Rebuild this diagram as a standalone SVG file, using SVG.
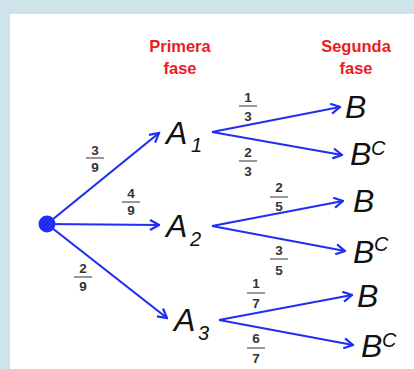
<svg xmlns="http://www.w3.org/2000/svg" width="414" height="369" viewBox="0 0 414 369">
<defs>
<style>
.e{stroke:#1f2ef2;stroke-width:2.2;fill:none;marker-end:url(#ah)}
.f{font-family:"Liberation Sans",Arial,sans-serif;font-weight:bold;font-size:13.5px;fill:#333;text-anchor:middle}
.fl{stroke:#444;stroke-width:1.1}
.h{font-family:"Liberation Sans",Arial,sans-serif;font-weight:bold;font-size:16.5px;fill:#ee1c1c;text-anchor:middle}
.n{font-family:"Liberation Sans",Arial,sans-serif;font-style:italic;font-size:32px;fill:#111}
.s{font-family:"Liberation Sans",Arial,sans-serif;font-style:italic;font-size:20px;fill:#111}
</style>
<marker id="ah" viewBox="0 0 12 12" refX="10.5" refY="6" markerWidth="12" markerHeight="12" markerUnits="userSpaceOnUse" orient="auto">
<path d="M1.5,1 L10.5,6 L1.5,11" fill="none" stroke="#1f2ef2" stroke-width="2.2"/>
</marker>
</defs>
<rect width="414" height="369" fill="#cfe3ea"/>
<rect x="10" y="14" width="404" height="355" fill="#ffffff"/>
<g id="headers">
<text class="h" x="180" y="52">Primera</text>
<text class="h" x="180" y="74">fase</text>
<text class="h" x="356" y="52">Segunda</text>
<text class="h" x="356" y="74">fase</text>
</g>
<g id="connectors">
<path class="e" d="M47,224 L159,133"/>
<path class="e" d="M47,224 L159,225"/>
<path class="e" d="M47,224 L167,318"/>
<path class="e" d="M212,132 L340,107"/>
<path class="e" d="M212,132 L342,155"/>
<path class="e" d="M212,226 L343,201"/>
<path class="e" d="M212,226 L345,251"/>
<path class="e" d="M219,320 L352,295"/>
<path class="e" d="M219,320 L353,345"/>
</g>
<g id="labels">
<text class="f" x="95" y="155">3</text><line class="fl" x1="86" y1="158" x2="104" y2="158"/><text class="f" x="95" y="172">9</text>
<text class="f" x="131" y="198">4</text><line class="fl" x1="122" y1="202" x2="140" y2="202"/><text class="f" x="131" y="215">9</text>
<text class="f" x="83" y="273">2</text><line class="fl" x1="74" y1="277" x2="92" y2="277"/><text class="f" x="83" y="291">9</text>
<text class="f" x="248" y="102">1</text><line class="fl" x1="239" y1="106" x2="257" y2="106"/><text class="f" x="248" y="121">3</text>
<text class="f" x="248" y="157">2</text><line class="fl" x1="239" y1="161" x2="257" y2="161"/><text class="f" x="248" y="176">3</text>
<text class="f" x="279" y="192">2</text><line class="fl" x1="270" y1="197" x2="288" y2="197"/><text class="f" x="279" y="211">5</text>
<text class="f" x="279" y="255">3</text><line class="fl" x1="270" y1="259" x2="288" y2="259"/><text class="f" x="279" y="275">5</text>
<text class="f" x="256" y="288">1</text><line class="fl" x1="247" y1="293" x2="265" y2="293"/><text class="f" x="256" y="308">7</text>
<text class="f" x="256" y="343">6</text><line class="fl" x1="247" y1="348" x2="265" y2="348"/><text class="f" x="256" y="363">7</text>
</g>
<g id="root"><circle cx="47" cy="224" r="8.5" fill="#1f2ef2"/></g>
<g id="A1"><text class="n" x="166" y="144">A</text><text class="s" x="191" y="152">1</text></g>
<g id="A2"><text class="n" x="166" y="237">A</text><text class="s" x="190" y="246">2</text></g>
<g id="A3"><text class="n" x="174" y="331">A</text><text class="s" x="198" y="340">3</text></g>
<g id="B1"><text class="n" x="345" y="118">B</text></g>
<g id="B1c"><text class="n" x="350" y="165">B</text><text class="s" x="371" y="155">C</text></g>
<g id="B2"><text class="n" x="353" y="212">B</text></g>
<g id="B2c"><text class="n" x="353" y="263">B</text><text class="s" x="374" y="251">C</text></g>
<g id="B3"><text class="n" x="357" y="307">B</text></g>
<g id="B3c"><text class="n" x="361" y="357">B</text><text class="s" x="382" y="347">C</text></g>
</svg>
